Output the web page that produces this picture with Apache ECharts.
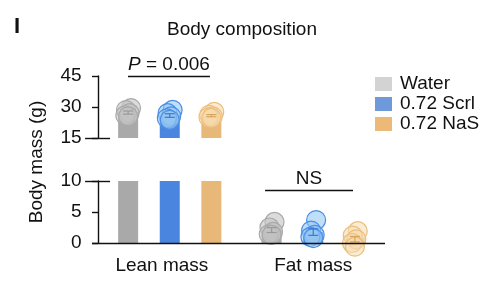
<!DOCTYPE html>
<html><head><meta charset="utf-8">
<script src="https://cdn.jsdelivr.net/npm/echarts@6/dist/echarts.min.js"></script>
<style>html,body{margin:0;padding:0;background:#fff}#c{width:493px;height:297px}</style>
</head><body><div id="c"></div>
<script>
// ---- data ----
const categories = ['Lean mass', 'Fat mass'];
const groups = ['Water', '0.72 Scrl', '0.72 NaS'];
const leanWater = [29.5, 28.5, 27.0, 26.0, 25.5];
const leanScrl  = [28.6, 27.0, 25.5, 24.5, 23.8];
const leanNaS   = [27.6, 26.2, 25.5, 25.0, 24.7];
const fatWater  = [3.4, 2.5, 1.8, 1.4, 1.3];
const fatScrl   = [3.7, 2.0, 1.3, 1.0, 0.8];
const fatNaS    = [1.9, 1.2, 0.6, 0.0, -0.6];
const jitter    = [0.02, -0.015, 0.01, -0.02, 0.0];
const topTicks = [15, 30, 45];
const bottomTicks = [0, 5, 10];
const nsLabel = 'NS';

// ---- styles ----
const FONT = 'Liberation Sans, Arial, sans-serif';
const FS = 19;
const barColors = ['#a9a9a9', '#4a86df', '#e8b878'];
const legendColors = ['#c8c8c8', '#4a80d2', '#e8a858'];
const dotFill = ['rgba(195,195,195,0.6)', 'rgba(150,200,242,0.6)', 'rgba(246,218,175,0.55)'];
const dotStroke = ['#a9a9a9', '#4a8ee6', '#ecbf7e'];
const errColor = ['#9a9a9a', '#3c78d8', '#d9a55a'];
const groupCenter = [0.5, 1.5];
const labelPos = [0.445, 1.5];
const offsets = [-0.29, 0, 0.29];

const lean = [leanWater, leanScrl, leanNaS];
const fat = [fatWater, fatScrl, fatNaS];
const mean = a => a.reduce((s, v) => s + v, 0) / a.length;
const sem = a => { const m = mean(a); return Math.sqrt(a.reduce((s, v) => s + (v - m) * (v - m), 0) / (a.length - 1)) / Math.sqrt(a.length); };

const series = [];
// bars
series.push({
  type: 'bar', xAxisIndex: 0, yAxisIndex: 0, barWidth: 20, z: 1, silent: true,
  data: groups.map((g, i) => ({ value: [groupCenter[0] + offsets[i], mean(lean[i])], itemStyle: { color: barColors[i] } }))
});
series.push({
  type: 'bar', xAxisIndex: 1, yAxisIndex: 1, barWidth: 20, z: 1, silent: true, clip: true,
  data: [].concat(
    groups.map((g, i) => ({ value: [groupCenter[0] + offsets[i], mean(lean[i])], itemStyle: { color: barColors[i] } })),
    groups.map((g, i) => ({ value: [groupCenter[1] + offsets[i], mean(fat[i])], itemStyle: { color: barColors[i] } }))
  )
});
// legend carrier series
groups.forEach((g, i) => {
  series.push({ name: g, type: 'scatter', xAxisIndex: 0, yAxisIndex: 0, data: [], itemStyle: { color: legendColors[i] } });
});
// dots
groups.forEach((g, i) => {
  series.push({
    type: 'scatter', xAxisIndex: 0, yAxisIndex: 0, symbolSize: 19, clip: false, z: 3, silent: true,
    itemStyle: { color: dotFill[i], borderColor: dotStroke[i], borderWidth: 1.2, opacity: 1 },
    data: lean[i].map((v, k) => [groupCenter[0] + offsets[i] + jitter[k], v])
  });
  series.push({
    type: 'scatter', xAxisIndex: 1, yAxisIndex: 1, symbolSize: 19, clip: false, z: 3, silent: true,
    itemStyle: { color: dotFill[i], borderColor: dotStroke[i], borderWidth: 1.2, opacity: 1 },
    data: fat[i].map((v, k) => [groupCenter[1] + offsets[i] + jitter[k], v])
  });
});
// error bars
function errSeries(ax, arrs, c) {
  return {
    type: 'custom', xAxisIndex: ax, yAxisIndex: ax, z: 4, silent: true, clip: false,
    data: arrs.map((a, i) => [groupCenter[c] + offsets[i], mean(a) - sem(a), mean(a) + sem(a), i]),
    renderItem: function (params, api) {
      const x = api.value(0), lo = api.coord([x, api.value(1)]), hi = api.coord([x, api.value(2)]);
      const col = errColor[api.value(3)], w = 5;
      const st = { stroke: col, lineWidth: 1.2 };
      return { type: 'group', children: [
        { type: 'line', shape: { x1: lo[0] - w, y1: lo[1], x2: lo[0] + w, y2: lo[1] }, style: st },
        { type: 'line', shape: { x1: hi[0] - w, y1: hi[1], x2: hi[0] + w, y2: hi[1] }, style: st },
        { type: 'line', shape: { x1: lo[0], y1: lo[1], x2: hi[0], y2: hi[1] }, style: st }
      ]};
    }
  };
}
series.push(errSeries(0, lean, 0));
series.push(errSeries(1, fat, 1));

// annotation lines (breaks, baseline, brackets)
const lineSt = { color: '#111', width: 1.4, type: 'solid' };
series.push({
  type: 'scatter', xAxisIndex: 0, yAxisIndex: 0, data: [], clip: false, silent: true,
  markLine: {
    silent: true, symbol: 'none', lineStyle: lineSt, animation: false,
    data: [
      [{ coord: [-0.09, 15] }, { coord: [0.084, 15] }],
      [{ coord: [0.209, 45], label: { show: true, position: 'insideMiddleTop', distance: 2, formatter: '{i|P} = 0.006', color: '#111', fontFamily: FONT, fontSize: FS, rich: { i: { fontStyle: 'italic', fontSize: FS, fontFamily: FONT, color: '#111' } } } }, { coord: [0.78, 45] }]
    ],
    label: { show: false }
  }
});
series.push({
  type: 'scatter', xAxisIndex: 1, yAxisIndex: 1, data: [], clip: false, silent: true,
  markLine: {
    silent: true, symbol: 'none', lineStyle: lineSt, animation: false,
    data: [
      [{ coord: [-0.09, 10] }, { coord: [0.084, 10] }],
      [{ coord: [-0.042, 0] }, { coord: [2.0, 0] }],
      [{ coord: [1.164, 8.55], label: { show: true, position: 'insideMiddleTop', distance: 2, formatter: nsLabel, color: '#111', fontFamily: FONT, fontSize: FS } }, { coord: [1.777, 8.55] }]
    ],
    label: { show: false }
  }
});

const xBase = { type: 'value', min: -0.1, max: 2.0, splitLine: { show: false }, axisTick: { show: false }, axisLine: { show: false } };
const yLabel = { color: '#111', fontSize: FS, fontFamily: FONT, margin: 2 };
const option = {
  animation: false,
  textStyle: { fontFamily: FONT },
  title: [
    { text: 'I', left: 14, top: 16, padding: 0, textStyle: { fontSize: 22, fontWeight: 'bold', color: '#111', fontFamily: FONT } },
    { text: 'Body composition', left: 242, textAlign: 'center', top: 20, padding: 0, textStyle: { fontSize: FS, fontWeight: 'normal', color: '#111', fontFamily: FONT } }
  ],
  legend: {
    orient: 'vertical', left: 375, top: 74, padding: 0, itemWidth: 17, itemHeight: 14, itemGap: 0, icon: 'rect',
    textStyle: { fontSize: FS, lineHeight: 20, color: '#111', fontFamily: FONT, padding: [0, 0, 0, 3] },
    data: groups.map((g, i) => ({ name: g, itemStyle: { color: legendColors[i] } })),
    selectedMode: false
  },
  grid: [
    { left: 83.65, width: 301.35, top: 76, height: 62 },
    { left: 83.65, width: 301.35, top: 181, height: 62 }
  ],
  xAxis: [
    Object.assign({ gridIndex: 0, axisLabel: { show: false } }, xBase),
    Object.assign({ gridIndex: 1, axisLabel: { show: true, customValues: labelPos, formatter: v => (v < 1 ? categories[0] : categories[1]), color: '#111', fontSize: FS, fontFamily: FONT, margin: 13 } }, xBase)
  ],
  yAxis: [
    { type: 'value', gridIndex: 0, min: 15, max: 45, interval: 15, splitLine: { show: false },
      axisLine: { show: true, onZero: true, lineStyle: { color: '#111', width: 1.4 } },
      axisTick: { show: true, length: 6, lineStyle: { color: '#111', width: 1.4 } },
      axisLabel: Object.assign({ customValues: topTicks }, yLabel) },
    { type: 'value', gridIndex: 1, min: 0, max: 10, interval: 5, splitLine: { show: false },
      axisLine: { show: true, onZero: true, lineStyle: { color: '#111', width: 1.4 } },
      axisTick: { show: true, length: 6, lineStyle: { color: '#111', width: 1.4 } },
      axisLabel: Object.assign({ customValues: bottomTicks }, yLabel) }
  ],
  graphic: [
    { type: 'text', x: 37, y: 162, rotation: Math.PI / 2,
      style: { text: 'Body mass (g)', fontSize: FS, fill: '#111', fontFamily: FONT, textAlign: 'center', textVerticalAlign: 'middle' } }
  ],
  series: series
};
const chart = echarts.init(document.getElementById('c'));
chart.setOption(option);
</script></body></html>
